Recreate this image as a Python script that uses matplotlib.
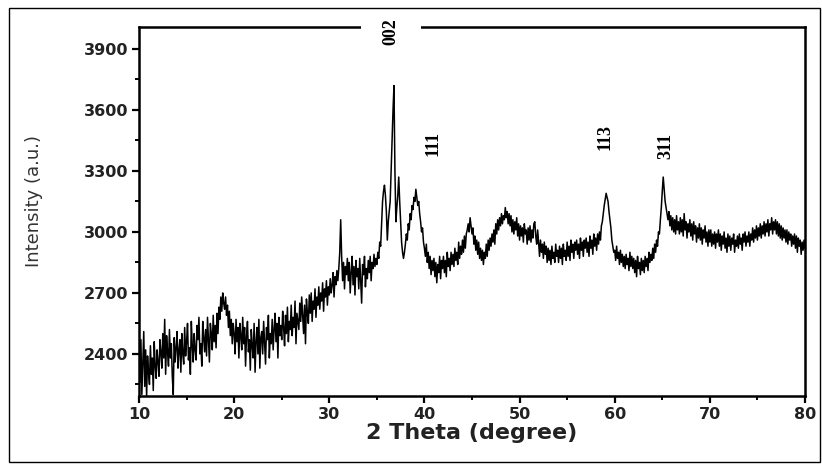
import numpy as np
import matplotlib
matplotlib.use("Agg")
import matplotlib.pyplot as plt
from matplotlib.patches import Rectangle
from matplotlib.ticker import MultipleLocator

# scan: 10-80 deg, step 0.1 deg (one row per degree)
SCAN_START, SCAN_STOP, SCAN_STEP = 10.0, 80.0, 0.1

intensity = [
    2540, 2260, 2470, 2200, 2350, 2510, 2240, 2420, 2190, 2390,   # 10
    2310, 2250, 2440, 2300, 2380, 2220, 2460, 2340, 2280, 2420,   # 11
    2360, 2290, 2470, 2410, 2330, 2500, 2380, 2570, 2300, 2490,   # 12
    2410, 2340, 2520, 2380, 2450, 2290, 2200, 2480, 2360, 2430,   # 13
    2510, 2330, 2420, 2470, 2310, 2500, 2400, 2350, 2530, 2390,   # 14
    2460, 2550, 2370, 2430, 2300, 2560, 2440, 2360, 2500, 2420,   # 15
    2370, 2540, 2470, 2580, 2400, 2450, 2340, 2560, 2480, 2410,   # 16
    2520, 2390, 2580, 2470, 2360, 2550, 2500, 2420, 2590, 2460,   # 17
    2540, 2430, 2600, 2500, 2630, 2570, 2680, 2610, 2700, 2650,   # 18
    2620, 2680, 2590, 2640, 2530, 2610, 2490, 2570, 2450, 2550,   # 19
    2500, 2400, 2570, 2460, 2530, 2380, 2550, 2490, 2420, 2580,   # 20
    2450, 2530, 2340, 2490, 2560, 2410, 2470, 2320, 2520, 2440,   # 21
    2380, 2550, 2310, 2460, 2530, 2400, 2570, 2330, 2480, 2510,   # 22
    2400, 2560, 2450, 2350, 2530, 2470, 2590, 2380, 2500, 2450,   # 23
    2570, 2420, 2520, 2600, 2460, 2550, 2380, 2580, 2490, 2540,   # 24
    2470, 2610, 2530, 2440, 2590, 2500, 2630, 2460, 2560, 2520,   # 25
    2640, 2490, 2580, 2530, 2660, 2450, 2600, 2560, 2520, 2650,   # 26
    2560, 2680, 2590, 2500, 2640, 2450, 2670, 2600, 2550, 2690,   # 27
    2600, 2700, 2560, 2660, 2620, 2720, 2580, 2680, 2640, 2730,   # 28
    2620, 2700, 2660, 2750, 2610, 2720, 2680, 2760, 2640, 2730,   # 29
    2690, 2770, 2700, 2740, 2800, 2680, 2780, 2740, 2810, 2760,   # 30
    2820, 2900, 3060, 2880, 2760, 2850, 2720, 2830, 2790, 2870,   # 31
    2760, 2850, 2700, 2800, 2880, 2740, 2830, 2690, 2860, 2780,   # 32
    2820, 2720, 2870, 2760, 2650, 2840, 2790, 2880, 2730, 2820,   # 33
    2770, 2860, 2800, 2880, 2760, 2850, 2820, 2890, 2830, 2870,   # 34
    2840, 2900, 2870, 2950, 2930, 3040, 3150, 3200, 3230, 3180,   # 35
    3100, 2960, 3050, 3100, 3150, 3300, 3450, 3600, 3720, 3300,   # 36
    3050, 3120, 3180, 3270, 3150, 3050, 2950, 2900, 2870, 2900,   # 37
    2940, 2990, 2960, 3040, 3010, 3090, 3060, 3130, 3110, 3170,   # 38
    3150, 3210, 3170, 3130, 3150, 3090, 3050, 3000, 3020, 2950,   # 39
    2920, 2880, 2940, 2850, 2900, 2820, 2880, 2790, 2860, 2810,   # 40
    2870, 2780, 2850, 2750, 2840, 2800, 2880, 2770, 2860, 2820,   # 41
    2880, 2800, 2860, 2780, 2900, 2830, 2870, 2810, 2900, 2840,   # 42
    2890, 2830, 2920, 2860, 2900, 2840, 2950, 2870, 2930, 2890,   # 43
    2960, 2900, 2980, 2920, 2990, 3010, 3040, 3000, 3070, 3030,   # 44
    2990, 3020, 2940, 2980, 2910, 2960, 2890, 2950, 2870, 2920,   # 45
    2860, 2910, 2840, 2900, 2870, 2940, 2880, 2960, 2910, 2970,   # 46
    2930, 2990, 2950, 3010, 2940, 3040, 2990, 3060, 3010, 3070,   # 47
    3030, 3090, 3040, 3080, 3060, 3120, 3070, 3100, 3040, 3090,   # 48
    3030, 3080, 3000, 3060, 2990, 3050, 3010, 3070, 2980, 3040,   # 49
    2960, 3030, 2980, 3020, 2950, 3040, 2990, 3010, 2940, 3020,   # 50
    2960, 3030, 2950, 3010, 2970, 3040, 3050, 2980, 2940, 3010,   # 51
    2950, 2880, 2960, 2900, 2940, 2870, 2950, 2890, 2930, 2850,   # 52
    2920, 2860, 2910, 2840, 2930, 2870, 2900, 2850, 2940, 2880,   # 53
    2910, 2850, 2930, 2870, 2920, 2840, 2940, 2880, 2910, 2860,   # 54
    2950, 2880, 2930, 2860, 2960, 2900, 2940, 2870, 2950, 2910,   # 55
    2960, 2890, 2940, 2870, 2970, 2910, 2950, 2880, 2960, 2920,   # 56
    2970, 2900, 2950, 2880, 2980, 2920, 2960, 2890, 2990, 2930,   # 57
    2970, 2910, 2990, 2940, 3000, 2960, 3030, 3050, 3090, 3130,   # 58
    3160, 3190, 3170, 3150, 3100, 3060, 3020, 2960, 2930, 2900,   # 59
    2910, 2860, 2930, 2870, 2900, 2840, 2910, 2850, 2890, 2830,   # 60
    2880, 2820, 2890, 2840, 2870, 2810, 2900, 2830, 2880, 2820,   # 61
    2870, 2800, 2860, 2780, 2880, 2820, 2850, 2790, 2870, 2810,   # 62
    2860, 2800, 2880, 2830, 2870, 2810, 2900, 2850, 2890, 2860,   # 63
    2920, 2870, 2940, 2900, 2960, 2930, 3000, 2990, 3060, 3120,   # 64
    3200, 3270, 3210, 3150, 3120, 3090, 3060, 3100, 3030, 3080,   # 65
    3010, 3070, 3000, 3060, 2990, 3080, 3010, 3050, 2990, 3070,   # 66
    3000, 3060, 2980, 3090, 3010, 3050, 2970, 3040, 3000, 3060,   # 67
    2980, 3040, 2960, 3050, 2990, 3030, 2950, 3020, 2970, 3040,   # 68
    2960, 3020, 2940, 3010, 2970, 3030, 2950, 3000, 2930, 3010,   # 69
    2950, 3010, 2930, 2990, 2940, 3000, 2920, 2990, 2950, 3010,   # 70
    2930, 2990, 2910, 2980, 2940, 3000, 2920, 2970, 2900, 2990,   # 71
    2930, 2980, 2910, 2970, 2940, 2990, 2900, 2960, 2930, 2980,   # 72
    2920, 2990, 2940, 2970, 2910, 2990, 2950, 3000, 2930, 2980,   # 73
    2950, 3000, 2930, 2990, 2960, 3020, 2950, 3010, 2970, 3030,   # 74
    2960, 3020, 2980, 3040, 2970, 3030, 2990, 3050, 2980, 3040,   # 75
    3000, 3060, 2980, 3040, 3010, 3070, 2990, 3050, 3010, 3060,   # 76
    2990, 3050, 2980, 3040, 2970, 3030, 2960, 3020, 2970, 3010,   # 77
    2950, 3010, 2940, 3000, 2960, 2990, 2930, 2980, 2940, 2990,   # 78
    2920, 2980, 2900, 2970, 2930, 2960, 2890, 2950, 2910, 2960,   # 79
    2920,                                                         # 80
]
two_theta = np.round(np.arange(SCAN_START, SCAN_STOP + SCAN_STEP / 2, SCAN_STEP), 1)

# peak labels (hkl, 2theta, label height)
peak_hkl = ["002", "111", "113", "311"]
peak_pos = [36.5, 40.9, 59.0, 65.4]
peak_lab_y = [3985, 3433, 3467, 3423]

fig = plt.figure(figsize=(8.22, 4.66), dpi=100)
ax = fig.add_axes([0.1691, 0.1502, 0.8102, 0.7918])

ax.plot(two_theta, intensity, color="black", lw=1.1)

ax.set_xlim(10, 80)
ax.set_ylim(2193, 4008)
ax.xaxis.set_major_locator(MultipleLocator(10))
ax.xaxis.set_minor_locator(MultipleLocator(5))
ax.yaxis.set_minor_locator(MultipleLocator(150))
ax.set_yticks(np.arange(2400, 3901, 300))

for s in ax.spines.values():
    s.set_linewidth(1.8)
ax.tick_params(which="major", direction="out", length=5, width=1.6,
               labelsize=11.5, labelcolor="#222222", pad=3)
ax.tick_params(which="minor", direction="out", length=3, width=1.4)
for lab in ax.get_xticklabels() + ax.get_yticklabels():
    lab.set_fontweight("bold")
    lab.set_family("DejaVu Sans")

ax.set_xlabel("2 Theta (degree)", fontsize=16, fontweight="bold",
              family="DejaVu Sans", color="#222222")
ax.set_ylabel("Intensity (a.u.)", fontsize=13, family="DejaVu Sans",
              color="#333333")
ax.xaxis.set_label_coords(0.5, -0.072)
ax.yaxis.set_label_coords(-0.144, 0.528)

for hkl, px, py in zip(peak_hkl, peak_pos, peak_lab_y):
    kw = {}
    if hkl == "002":
        kw["bbox"] = dict(boxstyle="square,pad=1.2", fc="white", ec="none")
    ax.text(px, py, hkl, rotation=90, ha="center", va="center",
            fontsize=13, fontweight="bold", family="Liberation Serif",
            zorder=5, clip_on=False, **kw)

# thin frame round the whole picture
fig.patches.append(Rectangle((0.011, 0.0086), 0.9866, 0.9744,
                             transform=fig.transFigure, fill=False,
                             ec="black", lw=1.0))

fig.savefig("out.png", dpi=100)
